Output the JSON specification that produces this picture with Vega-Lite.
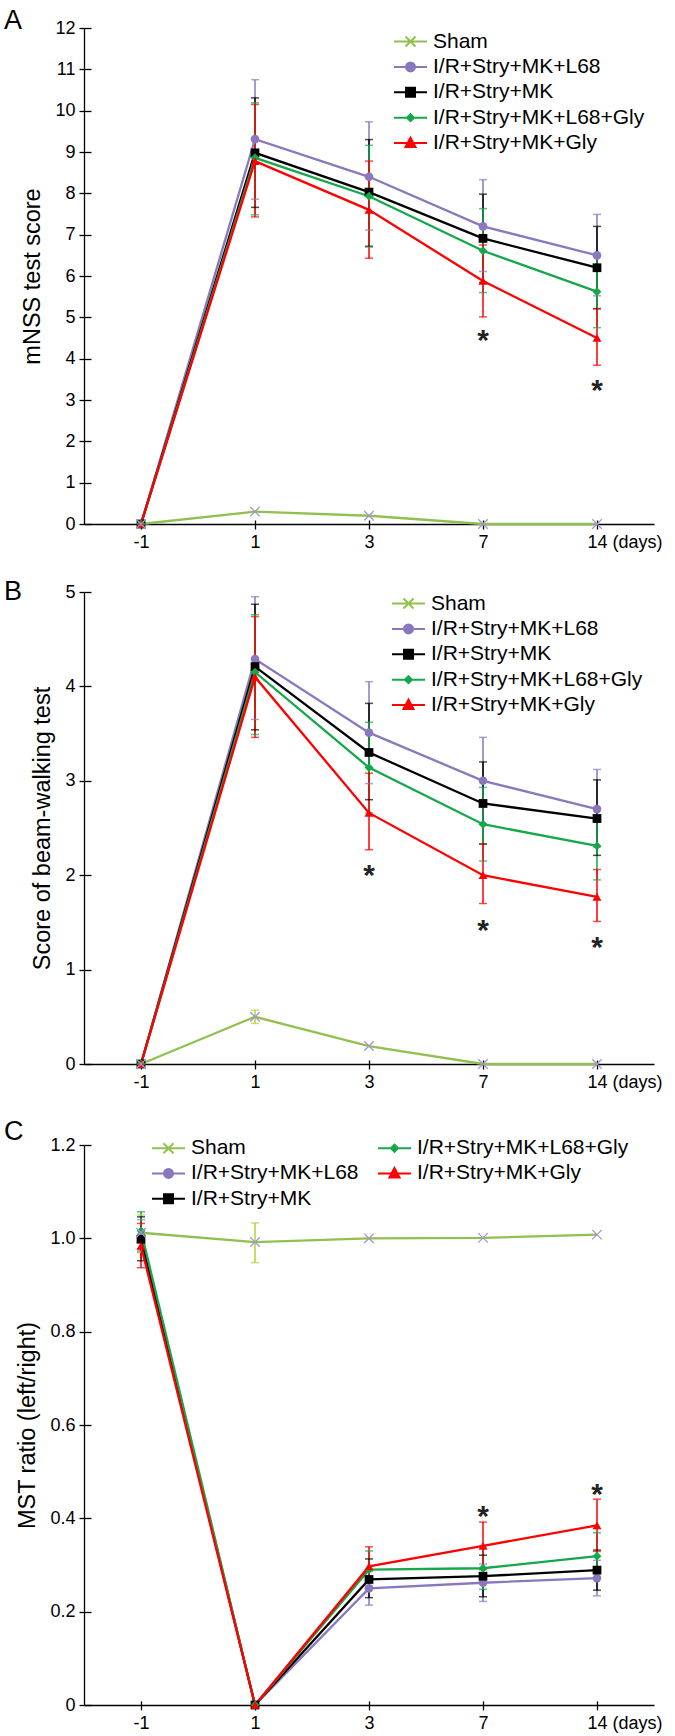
{
  "$schema": "https://vega.github.io/schema/vega-lite/v6.json",
  "padding": {"left": 4, "top": 7, "right": 5, "bottom": 3},
  "bounds": "flush",
  "spacing": 68,
  "resolve": {"scale": {"color": "independent", "shape": "independent", "size": "independent"}, "legend": {"color": "independent"}},
  "datasets": {
    "a": [
      {"day": "-1", "group": "Sham", "mean": 0, "lo": null, "hi": null},
      {"day": "1", "group": "Sham", "mean": 0.3, "lo": null, "hi": null},
      {"day": "3", "group": "Sham", "mean": 0.2, "lo": null, "hi": null},
      {"day": "7", "group": "Sham", "mean": 0, "lo": null, "hi": null},
      {"day": "14", "group": "Sham", "mean": 0, "lo": null, "hi": null},
      {"day": "-1", "group": "I/R+Stry+MK+L68", "mean": 0, "lo": null, "hi": null},
      {"day": "1", "group": "I/R+Stry+MK+L68", "mean": 9.31, "lo": 7.86, "hi": 10.75},
      {"day": "3", "group": "I/R+Stry+MK+L68", "mean": 8.4, "lo": 7.11, "hi": 9.73},
      {"day": "7", "group": "I/R+Stry+MK+L68", "mean": 7.2, "lo": 6.11, "hi": 8.33},
      {"day": "14", "group": "I/R+Stry+MK+L68", "mean": 6.5, "lo": 5.52, "hi": 7.49},
      {"day": "-1", "group": "I/R+Stry+MK", "mean": 0, "lo": null, "hi": null},
      {"day": "1", "group": "I/R+Stry+MK", "mean": 8.98, "lo": 7.66, "hi": 10.31},
      {"day": "3", "group": "I/R+Stry+MK", "mean": 8.03, "lo": 6.72, "hi": 9.3},
      {"day": "7", "group": "I/R+Stry+MK", "mean": 6.91, "lo": 5.84, "hi": 7.98},
      {"day": "14", "group": "I/R+Stry+MK", "mean": 6.2, "lo": 5.21, "hi": 7.2},
      {"day": "-1", "group": "I/R+Stry+MK+L68+Gly", "mean": 0, "lo": null, "hi": null},
      {"day": "1", "group": "I/R+Stry+MK+L68+Gly", "mean": 8.86, "lo": 7.48, "hi": 10.19},
      {"day": "3", "group": "I/R+Stry+MK+L68+Gly", "mean": 7.93, "lo": 6.7, "hi": 9.16},
      {"day": "7", "group": "I/R+Stry+MK+L68+Gly", "mean": 6.61, "lo": 5.6, "hi": 7.63},
      {"day": "14", "group": "I/R+Stry+MK+L68+Gly", "mean": 5.62, "lo": 4.75, "hi": 6.49},
      {"day": "-1", "group": "I/R+Stry+MK+Gly", "mean": 0, "lo": null, "hi": null},
      {"day": "1", "group": "I/R+Stry+MK+Gly", "mean": 8.78, "lo": 7.43, "hi": 10.15},
      {"day": "3", "group": "I/R+Stry+MK+Gly", "mean": 7.6, "lo": 6.43, "hi": 8.78},
      {"day": "7", "group": "I/R+Stry+MK+Gly", "mean": 5.88, "lo": 5.01, "hi": 6.75},
      {"day": "14", "group": "I/R+Stry+MK+Gly", "mean": 4.5, "lo": 3.84, "hi": 5.21}
    ],
    "b": [
      {"day": "-1", "group": "Sham", "mean": 0, "lo": null, "hi": null},
      {"day": "1", "group": "Sham", "mean": 0.5, "lo": 0.43, "hi": 0.57},
      {"day": "3", "group": "Sham", "mean": 0.19, "lo": null, "hi": null},
      {"day": "7", "group": "Sham", "mean": 0, "lo": null, "hi": null},
      {"day": "14", "group": "Sham", "mean": 0, "lo": null, "hi": null},
      {"day": "-1", "group": "I/R+Stry+MK+L68", "mean": 0, "lo": null, "hi": null},
      {"day": "1", "group": "I/R+Stry+MK+L68", "mean": 4.29, "lo": 3.65, "hi": 4.95},
      {"day": "3", "group": "I/R+Stry+MK+L68", "mean": 3.51, "lo": 2.97, "hi": 4.05},
      {"day": "7", "group": "I/R+Stry+MK+L68", "mean": 3.0, "lo": 2.54, "hi": 3.46},
      {"day": "14", "group": "I/R+Stry+MK+L68", "mean": 2.7, "lo": 2.3, "hi": 3.12},
      {"day": "-1", "group": "I/R+Stry+MK", "mean": 0, "lo": null, "hi": null},
      {"day": "1", "group": "I/R+Stry+MK", "mean": 4.21, "lo": 3.54, "hi": 4.87},
      {"day": "3", "group": "I/R+Stry+MK", "mean": 3.3, "lo": 2.8, "hi": 3.82},
      {"day": "7", "group": "I/R+Stry+MK", "mean": 2.76, "lo": 2.33, "hi": 3.2},
      {"day": "14", "group": "I/R+Stry+MK", "mean": 2.6, "lo": 2.21, "hi": 3.01},
      {"day": "-1", "group": "I/R+Stry+MK+L68+Gly", "mean": 0, "lo": null, "hi": null},
      {"day": "1", "group": "I/R+Stry+MK+L68+Gly", "mean": 4.15, "lo": 3.49, "hi": 4.76},
      {"day": "3", "group": "I/R+Stry+MK+L68+Gly", "mean": 3.14, "lo": 2.66, "hi": 3.62},
      {"day": "7", "group": "I/R+Stry+MK+L68+Gly", "mean": 2.54, "lo": 2.15, "hi": 2.93},
      {"day": "14", "group": "I/R+Stry+MK+L68+Gly", "mean": 2.31, "lo": 1.95, "hi": 2.64},
      {"day": "-1", "group": "I/R+Stry+MK+Gly", "mean": 0, "lo": null, "hi": null},
      {"day": "1", "group": "I/R+Stry+MK+Gly", "mean": 4.1, "lo": 3.46, "hi": 4.74},
      {"day": "3", "group": "I/R+Stry+MK+Gly", "mean": 2.66, "lo": 2.27, "hi": 3.08},
      {"day": "7", "group": "I/R+Stry+MK+Gly", "mean": 2.0, "lo": 1.7, "hi": 2.33},
      {"day": "14", "group": "I/R+Stry+MK+Gly", "mean": 1.77, "lo": 1.51, "hi": 2.06}
    ],
    "c": [
      {"day": "-1", "group": "Sham", "mean": 1.012, "lo": 0.972, "hi": 1.05},
      {"day": "1", "group": "Sham", "mean": 0.992, "lo": 0.948, "hi": 1.033},
      {"day": "3", "group": "Sham", "mean": 1.0, "lo": null, "hi": null},
      {"day": "7", "group": "Sham", "mean": 1.001, "lo": null, "hi": null},
      {"day": "14", "group": "Sham", "mean": 1.008, "lo": null, "hi": null},
      {"day": "-1", "group": "I/R+Stry+MK+L68", "mean": 1.005, "lo": 0.97, "hi": 1.04},
      {"day": "1", "group": "I/R+Stry+MK+L68", "mean": 0, "lo": null, "hi": null},
      {"day": "3", "group": "I/R+Stry+MK+L68", "mean": 0.25, "lo": 0.214, "hi": 0.286},
      {"day": "7", "group": "I/R+Stry+MK+L68", "mean": 0.262, "lo": 0.222, "hi": 0.302},
      {"day": "14", "group": "I/R+Stry+MK+L68", "mean": 0.272, "lo": 0.234, "hi": 0.31},
      {"day": "-1", "group": "I/R+Stry+MK", "mean": 0.998, "lo": 0.952, "hi": 1.046},
      {"day": "1", "group": "I/R+Stry+MK", "mean": 0, "lo": null, "hi": null},
      {"day": "3", "group": "I/R+Stry+MK", "mean": 0.269, "lo": 0.23, "hi": 0.313},
      {"day": "7", "group": "I/R+Stry+MK", "mean": 0.276, "lo": 0.232, "hi": 0.321},
      {"day": "14", "group": "I/R+Stry+MK", "mean": 0.289, "lo": 0.246, "hi": 0.332},
      {"day": "-1", "group": "I/R+Stry+MK+L68+Gly", "mean": 1.016, "lo": 0.975, "hi": 1.057},
      {"day": "1", "group": "I/R+Stry+MK+L68+Gly", "mean": 0, "lo": null, "hi": null},
      {"day": "3", "group": "I/R+Stry+MK+L68+Gly", "mean": 0.29, "lo": 0.25, "hi": 0.33},
      {"day": "7", "group": "I/R+Stry+MK+L68+Gly", "mean": 0.293, "lo": 0.248, "hi": 0.338},
      {"day": "14", "group": "I/R+Stry+MK+L68+Gly", "mean": 0.319, "lo": 0.27, "hi": 0.369},
      {"day": "-1", "group": "I/R+Stry+MK+Gly", "mean": 0.984, "lo": 0.937, "hi": 1.032},
      {"day": "1", "group": "I/R+Stry+MK+Gly", "mean": 0, "lo": null, "hi": null},
      {"day": "3", "group": "I/R+Stry+MK+Gly", "mean": 0.297, "lo": 0.253, "hi": 0.339},
      {"day": "7", "group": "I/R+Stry+MK+Gly", "mean": 0.341, "lo": 0.29, "hi": 0.392},
      {"day": "14", "group": "I/R+Stry+MK+Gly", "mean": 0.385, "lo": 0.329, "hi": 0.441}
    ],
    "a_star": [{"day": "7", "y": 4.61}, {"day": "14", "y": 3.4}],
    "b_star": [{"day": "3", "y": 2.08}, {"day": "7", "y": 1.49}, {"day": "14", "y": 1.31}],
    "c_star": [{"day": "7", "y": 0.421}, {"day": "14", "y": 0.468}]
  },
  "vconcat": [
    {
      "width": 570,
      "height": 496,
      "title": {"text": "A", "anchor": "start", "frame": "group", "fontSize": 27, "fontWeight": "normal", "dx": -80, "dy": 16, "offset": 0, "baseline": "top", "color": "#000"},
      "resolve": {"axis": {"x": "independent", "y": "independent"}},
      "layer": [
        {"data": {"name": "a"}, "transform": [{"filter": "isValid(datum.lo)"}],
          "mark": {"type": "rule", "strokeWidth": 1.5},
          "encoding": {
            "x": {"field": "day", "type": "ordinal", "title": null,
              "scale": {"type": "point", "padding": 0.5, "domain": ["-1", "1", "3", "7", "14"]},
              "axis": {"labelAngle": 0, "labelExpr": "datum.value == '14' ? '14 (days)' : datum.label",
                "labelAlign": {"condition": {"test": "datum.value == '14'", "value": "left"}, "value": "center"},
                "labelOffset": {"condition": {"test": "datum.value == '14'", "value": -10}, "value": 0}}},
            "y": {"field": "lo", "type": "quantitative", "title": "mNSS test score", "scale": {"domain": [0, 12]}, "axis": {"values": [0,1,2,3,4,5,6,7,8,9,10,11,12]}},
            "y2": {"field": "hi"},
            "color": {"condition": {"test": "datum.group == 'Sham'", "value": "#b3d234"}, "field": "group", "type": "nominal"}}},
        {"data": {"name": "a"}, "transform": [{"filter": "isValid(datum.lo)"}, {"fold": ["lo", "hi"], "as": ["end", "val"]}],
          "mark": {"type": "tick", "size": 8, "thickness": 1.5},
          "encoding": {
            "x": {"field": "day", "type": "ordinal", "axis": null},
            "y": {"field": "val", "type": "quantitative", "axis": null},
            "color": {"condition": {"test": "datum.group == 'Sham'", "value": "#b3d234"}, "field": "group", "type": "nominal"}}},
        {"data": {"name": "a"},
          "mark": {"type": "line", "strokeWidth": 2.3},
          "encoding": {
            "x": {"field": "day", "type": "ordinal", "axis": null},
            "y": {"field": "mean", "type": "quantitative", "axis": null},
            "color": {"field": "group", "type": "nominal",
              "scale": {"domain": ["Sham", "I/R+Stry+MK+L68", "I/R+Stry+MK", "I/R+Stry+MK+L68+Gly", "I/R+Stry+MK+Gly"], "range": ["#92c050", "#8b77bd", "#000000", "#15a84b", "#ff0000"]},
              "legend": {"title": null, "orient": "none", "legendX": 310, "legendY": 3,
                "encode": {"symbols": {"update": {
                  "shape": {"signal": "datum.value == 'Sham' ? 'M-2.1,0H4.5M0.2,-1L2.2,1M0.2,1L2.2,-1' : datum.value == 'I/R+Stry+MK+L68' ? 'M-2.1,0H4.5M0.3,0A0.9,0.9,0,1,0,2.1,0A0.9,0.9,0,1,0,0.3,0Z' : datum.value == 'I/R+Stry+MK' ? 'M-2.1,0H4.5M0.3,-0.9H2.1V0.9H0.3Z' : datum.value == 'I/R+Stry+MK+L68+Gly' ? 'M-2.1,0H4.5M1.2,-0.7L1.9,0L1.2,0.7L0.5,0Z' : 'M-2.1,0H4.5M1.2,-1.1L2.2,0.8H0.2Z'"},
                  "fill": {"signal": "datum.value == 'Sham' ? 'transparent' : datum.value == 'I/R+Stry+MK+L68' ? '#8b77bd' : datum.value == 'I/R+Stry+MK' ? '#000000' : datum.value == 'I/R+Stry+MK+L68+Gly' ? '#15a84b' : '#ff0000'"},
                  "stroke": {"signal": "datum.value == 'Sham' ? '#92c050' : datum.value == 'I/R+Stry+MK+L68' ? '#8b77bd' : datum.value == 'I/R+Stry+MK' ? '#000000' : datum.value == 'I/R+Stry+MK+L68+Gly' ? '#15a84b' : '#ff0000'"},
                  "strokeWidth": {"value": 2},
                  "opacity": {"value": 1}}}}}}}},
        {"data": {"name": "a"}, "transform": [{"filter": "datum.group != 'Sham'"}],
          "mark": {"type": "point", "filled": true, "opacity": 1},
          "encoding": {
            "x": {"field": "day", "type": "ordinal", "axis": null},
            "y": {"field": "mean", "type": "quantitative", "axis": null},
            "color": {"field": "group", "type": "nominal"},
            "shape": {"field": "group", "type": "nominal", "legend": null, "scale": {"domain": ["I/R+Stry+MK+L68", "I/R+Stry+MK", "I/R+Stry+MK+L68+Gly", "I/R+Stry+MK+Gly"], "range": ["circle", "square", "diamond", "triangle-up"]}},
            "size": {"field": "group", "type": "nominal", "legend": null, "scale": {"domain": ["I/R+Stry+MK+L68", "I/R+Stry+MK", "I/R+Stry+MK+L68+Gly", "I/R+Stry+MK+Gly"], "range": [75, 80, 45, 78]}}}},
        {"data": {"name": "a"}, "transform": [{"filter": "datum.group == 'Sham'"}],
          "mark": {"type": "point", "shape": "M-1,-1L1,1M-1,1L1,-1", "size": 90, "filled": false, "stroke": "#a394d2", "strokeWidth": 1.3, "opacity": 1},
          "encoding": {"x": {"field": "day", "type": "ordinal", "axis": null}, "y": {"field": "mean", "type": "quantitative", "axis": null}}},
        {"data": {"name": "a_star"},
          "mark": {"type": "text", "text": "*", "fontSize": 30, "fontWeight": "bold", "baseline": "alphabetic", "dy": 17, "color": "#222"},
          "encoding": {"x": {"field": "day", "type": "ordinal", "axis": null}, "y": {"field": "y", "type": "quantitative", "axis": null}}},
        {"data": {"name": "a"}, "transform": [{"filter": "datum.group == 'Sham'"}],
          "mark": {"type": "point", "opacity": 0},
          "encoding": {
            "x": {"field": "day", "type": "ordinal", "axis": {"orient": "top", "offset": -496, "labels": false, "domain": false, "tickSize": 4, "title": null}},
            "y": {"field": "mean", "type": "quantitative", "axis": {"orient": "right", "offset": -570, "labels": false, "domain": false, "tickSize": 7, "title": null, "values": [0,1,2,3,4,5,6,7,8,9,10,11,12]}}}}
      ]
    },
    {
      "bounds": "flush",
      "spacing": 81,
      "resolve": {"scale": {"color": "independent", "shape": "independent", "size": "independent"}, "legend": {"color": "independent"}},
      "vconcat": [
        {
          "width": 570,
          "height": 472,
          "title": {"text": "B", "anchor": "start", "frame": "group", "fontSize": 27, "fontWeight": "normal", "dx": -80, "dy": 23, "offset": 0, "baseline": "top", "color": "#000"},
          "resolve": {"axis": {"x": "independent", "y": "independent"}},
          "layer": [
            {"data": {"name": "b"}, "transform": [{"filter": "isValid(datum.lo)"}],
              "mark": {"type": "rule", "strokeWidth": 1.5},
              "encoding": {
                "x": {"field": "day", "type": "ordinal", "title": null,
                  "scale": {"type": "point", "padding": 0.5, "domain": ["-1", "1", "3", "7", "14"]},
                  "axis": {"labelAngle": 0, "labelExpr": "datum.value == '14' ? '14 (days)' : datum.label",
                    "labelAlign": {"condition": {"test": "datum.value == '14'", "value": "left"}, "value": "center"},
                    "labelOffset": {"condition": {"test": "datum.value == '14'", "value": -10}, "value": 0}}},
                "y": {"field": "lo", "type": "quantitative", "title": "Score of beam-walking test", "scale": {"domain": [0, 5]}, "axis": {"values": [0,1,2,3,4,5], "format": "d"}},
                "y2": {"field": "hi"},
                "color": {"condition": {"test": "datum.group == 'Sham'", "value": "#b3d234"}, "field": "group", "type": "nominal"}}},
            {"data": {"name": "b"}, "transform": [{"filter": "isValid(datum.lo)"}, {"fold": ["lo", "hi"], "as": ["end", "val"]}],
              "mark": {"type": "tick", "size": 8, "thickness": 1.5},
              "encoding": {
                "x": {"field": "day", "type": "ordinal", "axis": null},
                "y": {"field": "val", "type": "quantitative", "axis": null},
                "color": {"condition": {"test": "datum.group == 'Sham'", "value": "#b3d234"}, "field": "group", "type": "nominal"}}},
            {"data": {"name": "b"},
              "mark": {"type": "line", "strokeWidth": 2.3},
              "encoding": {
                "x": {"field": "day", "type": "ordinal", "axis": null},
                "y": {"field": "mean", "type": "quantitative", "axis": null},
                "color": {"field": "group", "type": "nominal",
                  "scale": {"domain": ["Sham", "I/R+Stry+MK+L68", "I/R+Stry+MK", "I/R+Stry+MK+L68+Gly", "I/R+Stry+MK+Gly"], "range": ["#92c050", "#8b77bd", "#000000", "#15a84b", "#ff0000"]},
                  "legend": {"title": null, "orient": "none", "legendX": 308, "legendY": 1,
                    "encode": {"symbols": {"update": {
                      "shape": {"signal": "datum.value == 'Sham' ? 'M-2.1,0H4.5M0.2,-1L2.2,1M0.2,1L2.2,-1' : datum.value == 'I/R+Stry+MK+L68' ? 'M-2.1,0H4.5M0.3,0A0.9,0.9,0,1,0,2.1,0A0.9,0.9,0,1,0,0.3,0Z' : datum.value == 'I/R+Stry+MK' ? 'M-2.1,0H4.5M0.3,-0.9H2.1V0.9H0.3Z' : datum.value == 'I/R+Stry+MK+L68+Gly' ? 'M-2.1,0H4.5M1.2,-0.7L1.9,0L1.2,0.7L0.5,0Z' : 'M-2.1,0H4.5M1.2,-1.1L2.2,0.8H0.2Z'"},
                      "fill": {"signal": "datum.value == 'Sham' ? 'transparent' : datum.value == 'I/R+Stry+MK+L68' ? '#8b77bd' : datum.value == 'I/R+Stry+MK' ? '#000000' : datum.value == 'I/R+Stry+MK+L68+Gly' ? '#15a84b' : '#ff0000'"},
                      "stroke": {"signal": "datum.value == 'Sham' ? '#92c050' : datum.value == 'I/R+Stry+MK+L68' ? '#8b77bd' : datum.value == 'I/R+Stry+MK' ? '#000000' : datum.value == 'I/R+Stry+MK+L68+Gly' ? '#15a84b' : '#ff0000'"},
                      "strokeWidth": {"value": 2},
                      "opacity": {"value": 1}}}}}}}},
            {"data": {"name": "b"}, "transform": [{"filter": "datum.group != 'Sham'"}],
              "mark": {"type": "point", "filled": true, "opacity": 1},
              "encoding": {
                "x": {"field": "day", "type": "ordinal", "axis": null},
                "y": {"field": "mean", "type": "quantitative", "axis": null},
                "color": {"field": "group", "type": "nominal"},
                "shape": {"field": "group", "type": "nominal", "legend": null, "scale": {"domain": ["I/R+Stry+MK+L68", "I/R+Stry+MK", "I/R+Stry+MK+L68+Gly", "I/R+Stry+MK+Gly"], "range": ["circle", "square", "diamond", "triangle-up"]}},
                "size": {"field": "group", "type": "nominal", "legend": null, "scale": {"domain": ["I/R+Stry+MK+L68", "I/R+Stry+MK", "I/R+Stry+MK+L68+Gly", "I/R+Stry+MK+Gly"], "range": [75, 80, 45, 78]}}}},
            {"data": {"name": "b"}, "transform": [{"filter": "datum.group == 'Sham'"}],
              "mark": {"type": "point", "shape": "M-1,-1L1,1M-1,1L1,-1", "size": 90, "filled": false, "stroke": "#a394d2", "strokeWidth": 1.3, "opacity": 1},
              "encoding": {"x": {"field": "day", "type": "ordinal", "axis": null}, "y": {"field": "mean", "type": "quantitative", "axis": null}}},
            {"data": {"name": "b_star"},
              "mark": {"type": "text", "text": "*", "fontSize": 30, "fontWeight": "bold", "baseline": "alphabetic", "dy": 17, "color": "#222"},
              "encoding": {"x": {"field": "day", "type": "ordinal", "axis": null}, "y": {"field": "y", "type": "quantitative", "axis": null}}},
            {"data": {"name": "b"}, "transform": [{"filter": "datum.group == 'Sham'"}],
              "mark": {"type": "point", "opacity": 0},
              "encoding": {
                "x": {"field": "day", "type": "ordinal", "axis": {"orient": "top", "offset": -472, "labels": false, "domain": false, "tickSize": 4, "title": null}},
                "y": {"field": "mean", "type": "quantitative", "axis": {"orient": "right", "offset": -570, "labels": false, "domain": false, "tickSize": 7, "title": null, "values": [0,1,2,3,4,5]}}}}
          ]
        },
        {
          "width": 570,
          "height": 560,
          "title": {"text": "C", "anchor": "start", "frame": "group", "fontSize": 27, "fontWeight": "normal", "dx": -80, "dy": 10, "offset": 0, "baseline": "top", "color": "#000"},
          "resolve": {"axis": {"x": "independent", "y": "independent"}},
          "layer": [
            {"data": {"name": "c"}, "transform": [{"filter": "isValid(datum.lo)"}],
              "mark": {"type": "rule", "strokeWidth": 1.5},
              "encoding": {
                "x": {"field": "day", "type": "ordinal", "title": null,
                  "scale": {"type": "point", "padding": 0.5, "domain": ["-1", "1", "3", "7", "14"]},
                  "axis": {"labelAngle": 0, "labelExpr": "datum.value == '14' ? '14 (days)' : datum.label",
                    "labelAlign": {"condition": {"test": "datum.value == '14'", "value": "left"}, "value": "center"},
                    "labelOffset": {"condition": {"test": "datum.value == '14'", "value": -10}, "value": 0}}},
                "y": {"field": "lo", "type": "quantitative", "title": "MST ratio (left/right)", "scale": {"domain": [0, 1.2]}, "axis": {"values": [0, 0.2, 0.4, 0.6, 0.8, 1.0, 1.2], "labelExpr": "datum.value == 0 ? '0' : format(datum.value, '.1f')"}},
                "y2": {"field": "hi"},
                "color": {"condition": {"test": "datum.group == 'Sham'", "value": "#b3d234"}, "field": "group", "type": "nominal"}}},
            {"data": {"name": "c"}, "transform": [{"filter": "isValid(datum.lo)"}, {"fold": ["lo", "hi"], "as": ["end", "val"]}],
              "mark": {"type": "tick", "size": 8, "thickness": 1.5},
              "encoding": {
                "x": {"field": "day", "type": "ordinal", "axis": null},
                "y": {"field": "val", "type": "quantitative", "axis": null},
                "color": {"condition": {"test": "datum.group == 'Sham'", "value": "#b3d234"}, "field": "group", "type": "nominal"}}},
            {"data": {"name": "c"},
              "mark": {"type": "line", "strokeWidth": 2.3},
              "encoding": {
                "x": {"field": "day", "type": "ordinal", "axis": null},
                "y": {"field": "mean", "type": "quantitative", "axis": null},
                "color": {"field": "group", "type": "nominal",
                  "scale": {"domain": ["Sham", "I/R+Stry+MK+L68", "I/R+Stry+MK", "I/R+Stry+MK+L68+Gly", "I/R+Stry+MK+Gly"], "range": ["#92c050", "#8b77bd", "#000000", "#15a84b", "#ff0000"]},
                  "legend": {"title": null, "orient": "none", "legendX": 68, "legendY": -7.5, "columns": 2, "columnPadding": 15,
                    "encode": {"symbols": {"update": {
                      "shape": {"signal": "datum.value == 'Sham' ? 'M-2.1,0H4.5M0.2,-1L2.2,1M0.2,1L2.2,-1' : datum.value == 'I/R+Stry+MK+L68' ? 'M-2.1,0H4.5M0.3,0A0.9,0.9,0,1,0,2.1,0A0.9,0.9,0,1,0,0.3,0Z' : datum.value == 'I/R+Stry+MK' ? 'M-2.1,0H4.5M0.3,-0.9H2.1V0.9H0.3Z' : datum.value == 'I/R+Stry+MK+L68+Gly' ? 'M-2.1,0H4.5M1.2,-0.7L1.9,0L1.2,0.7L0.5,0Z' : 'M-2.1,0H4.5M1.2,-1.1L2.2,0.8H0.2Z'"},
                      "fill": {"signal": "datum.value == 'Sham' ? 'transparent' : datum.value == 'I/R+Stry+MK+L68' ? '#8b77bd' : datum.value == 'I/R+Stry+MK' ? '#000000' : datum.value == 'I/R+Stry+MK+L68+Gly' ? '#15a84b' : '#ff0000'"},
                      "stroke": {"signal": "datum.value == 'Sham' ? '#92c050' : datum.value == 'I/R+Stry+MK+L68' ? '#8b77bd' : datum.value == 'I/R+Stry+MK' ? '#000000' : datum.value == 'I/R+Stry+MK+L68+Gly' ? '#15a84b' : '#ff0000'"},
                      "strokeWidth": {"value": 2},
                      "opacity": {"value": 1}}}}}}}},
            {"data": {"name": "c"}, "transform": [{"filter": "datum.group != 'Sham'"}],
              "mark": {"type": "point", "filled": true, "opacity": 1},
              "encoding": {
                "x": {"field": "day", "type": "ordinal", "axis": null},
                "y": {"field": "mean", "type": "quantitative", "axis": null},
                "color": {"field": "group", "type": "nominal"},
                "shape": {"field": "group", "type": "nominal", "legend": null, "scale": {"domain": ["I/R+Stry+MK+L68", "I/R+Stry+MK", "I/R+Stry+MK+L68+Gly", "I/R+Stry+MK+Gly"], "range": ["circle", "square", "diamond", "triangle-up"]}},
                "size": {"field": "group", "type": "nominal", "legend": null, "scale": {"domain": ["I/R+Stry+MK+L68", "I/R+Stry+MK", "I/R+Stry+MK+L68+Gly", "I/R+Stry+MK+Gly"], "range": [75, 80, 45, 78]}}}},
            {"data": {"name": "c"}, "transform": [{"filter": "datum.group == 'Sham'"}],
              "mark": {"type": "point", "shape": "M-1,-1L1,1M-1,1L1,-1", "size": 90, "filled": false, "stroke": "#a394d2", "strokeWidth": 1.3, "opacity": 1},
              "encoding": {"x": {"field": "day", "type": "ordinal", "axis": null}, "y": {"field": "mean", "type": "quantitative", "axis": null}}},
            {"data": {"name": "c_star"},
              "mark": {"type": "text", "text": "*", "fontSize": 30, "fontWeight": "bold", "baseline": "alphabetic", "dy": 17, "color": "#222"},
              "encoding": {"x": {"field": "day", "type": "ordinal", "axis": null}, "y": {"field": "y", "type": "quantitative", "axis": null}}},
            {"data": {"name": "c"}, "transform": [{"filter": "datum.group == 'Sham'"}],
              "mark": {"type": "point", "opacity": 0},
              "encoding": {
                "x": {"field": "day", "type": "ordinal", "axis": {"orient": "top", "offset": -560, "labels": false, "domain": false, "tickSize": 4, "title": null}},
                "y": {"field": "mean", "type": "quantitative", "axis": {"orient": "right", "offset": -570, "labels": false, "domain": false, "tickSize": 7, "title": null, "values": [0, 0.2, 0.4, 0.6, 0.8, 1.0, 1.2]}}}}
          ]
        }
      ]
    }
  ],
  "config": {
    "font": "Liberation Sans",
    "view": {"stroke": null},
    "axis": {"grid": false, "domainColor": "#000", "tickColor": "#000", "labelColor": "#000", "titleColor": "#000", "labelFontSize": 18, "titleFontSize": 23.5, "titleFontWeight": "normal", "tickSize": 5, "labelPadding": 4, "domainWidth": 1.3, "tickWidth": 1.3, "titlePadding": 10},
    "legend": {"labelFontSize": 21, "labelColor": "#000", "symbolSize": 100, "symbolStrokeWidth": 2, "labelOffset": 18, "rowPadding": 3.4, "padding": 0, "symbolOffset": 0, "labelLimit": 400}
  }
}
